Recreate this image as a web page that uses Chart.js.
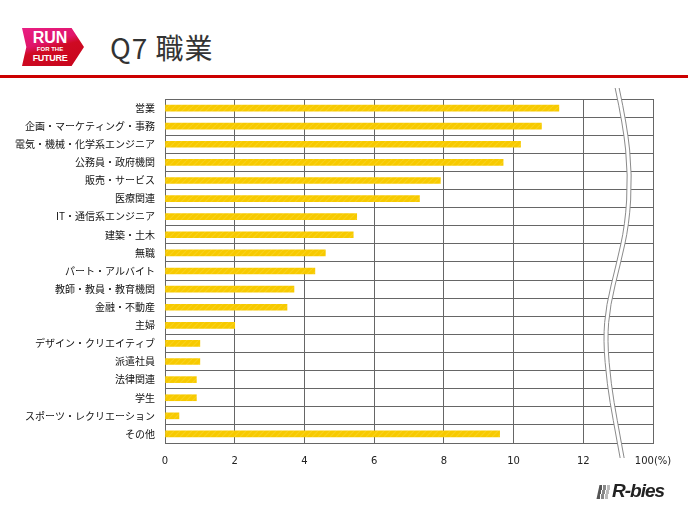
<!DOCTYPE html>
<html>
<head>
<meta charset="utf-8">
<script src="https://cdn.jsdelivr.net/npm/chart.js@4"></script>
<style>
  body { margin: 0; width: 688px; height: 516px; background: #fff; position: relative; overflow: hidden;
         font-family: "Noto Sans CJK JP", "Noto Sans", sans-serif; }
  #logo { position: absolute; left: 22px; top: 28px; width: 62px; height: 38px;
          background: linear-gradient(165deg, #e91e84 0%, #e0156a 38%, #cf0a23 52%, #c8051c 100%);
          clip-path: polygon(0 0, 80% 0, 100% 50%, 80% 100%, 0 100%, 7% 50%); color: #fff; text-align: center; }
  #logo .run { position: absolute; left: 1px; width: 54px; top: 2px; font: bold 16px/15px "Liberation Sans Narrow", "Liberation Sans", Arial, sans-serif; }
  #logo .for { position: absolute; left: 1px; width: 54px; top: 18px; font: bold 6px/7px "Liberation Sans", Arial, sans-serif; }
  #logo .fut { position: absolute; left: 1px; width: 54px; top: 25px; font: bold 9px/10px "Liberation Sans", Arial, sans-serif; letter-spacing: -0.3px; }
  #title { position: absolute; left: 110px; top: 30px; font-size: 28px; line-height: 34px; letter-spacing: 1px; color: #333; white-space: nowrap; }
  #rule { position: absolute; left: 0; top: 75px; width: 688px; height: 3px; background: #cc0000; }
  #wrap { position: absolute; left: 0; top: 83px; width: 688px; height: 397px; }
  #brand { position: absolute; left: 596px; top: 480px; width: 80px; height: 22px; white-space: nowrap; }
  #brand .bars { position: absolute; left: 2px; top: 5px; width: 14px; height: 14px;
                 background: linear-gradient(90deg, #555 0 3px, #fff 3px 4px, #888 4px 7px, #fff 7px 8px, #bbb 8px 11px, #fff 11px);
                 transform: skewX(-12deg); }
  #brand .txt { position: absolute; left: 16px; top: -1px; font: italic bold 19px/24px "Liberation Sans", Arial, sans-serif;
                color: #222; letter-spacing: -1px; }
</style>
</head>
<body>
<div id="logo"><div class="run">RUN</div><div class="for">FOR THE</div><div class="fut">FUTURE</div></div>
<div id="title">Q7 職業</div>
<div id="rule"></div>
<div id="wrap"><canvas id="chart"></canvas></div>
<div id="brand"><div class="bars"></div><div class="txt">R-bies</div></div>
<script>
// Data
const categories = ['営業', '企画・マーケティング・事務', '電気・機械・化学系エンジニア', '公務員・政府機関', '販売・サービス',
  '医療関連', 'IT・通信系エンジニア', '建築・土木', '無職', 'パート・アルバイト', '教師・教員・教育機関', '金融・不動産',
  '主婦', 'デザイン・クリエイティブ', '派遣社員', '法律関連', '学生', 'スポーツ・レクリエーション', 'その他'];
const values = [11.3, 10.8, 10.2, 9.7, 7.9, 7.3, 5.5, 5.4, 4.6, 4.3, 3.7, 3.5, 2.0, 1.0, 1.0, 0.9, 0.9, 0.4, 9.6];
const tickValues = [0, 2, 4, 6, 8, 10, 12, 14];
const tickLabels = ['0', '2', '4', '6', '8', '10', '12', '100(%)'];
const breakAt = 13;

// striped yellow fill for the bars
const pc = document.createElement('canvas');
pc.width = 6; pc.height = 6;
const p = pc.getContext('2d');
p.fillStyle = '#f7ca00';
p.fillRect(0, 0, 6, 6);
p.strokeStyle = '#f9d11c';
p.lineWidth = 1.2;
p.beginPath(); p.moveTo(0, 6); p.lineTo(6, 0); p.stroke();
const stripes = document.getElementById('chart').getContext('2d').createPattern(pc, 'repeat');

// axis break drawn as two wavy lines
const breakShape = [[-1, -11], [7, 26], [12, 76], [9, 126], [0, 166], [-10, 206], [-13, 241], [-9, 286], [-3, 321], [4, 359]];
function wavy(ctx, pts, cont) {
  if (cont) ctx.lineTo(pts[0][0], pts[0][1]); else ctx.moveTo(pts[0][0], pts[0][1]);
  for (let i = 1; i < pts.length - 1; i++) {
    const mx = (pts[i][0] + pts[i + 1][0]) / 2, my = (pts[i][1] + pts[i + 1][1]) / 2;
    ctx.quadraticCurveTo(pts[i][0], pts[i][1], mx, my);
  }
  const l = pts[pts.length - 1];
  ctx.lineTo(l[0], l[1]);
}
const breakPlugin = {
  id: 'axisBreak',
  afterDraw(chart) {
    const ctx = chart.ctx;
    const x0 = chart.scales.x.getPixelForValue(breakAt);
    const top = chart.chartArea.top;
    const left = breakShape.map(q => [x0 + q[0] - 2, top + q[1]]);
    const right = breakShape.map(q => [x0 + q[0] + 2, top + q[1]]);
    ctx.save();
    ctx.beginPath();
    wavy(ctx, left);
    wavy(ctx, right.slice().reverse(), true);
    ctx.closePath();
    ctx.fillStyle = '#fff';
    ctx.fill();
    ctx.strokeStyle = '#8a8a8a';
    ctx.lineWidth = 1;
    ctx.beginPath(); wavy(ctx, left); ctx.stroke();
    ctx.beginPath(); wavy(ctx, right); ctx.stroke();
    ctx.restore();
  }
};

new Chart(document.getElementById('chart'), {
  type: 'bar',
  data: {
    labels: categories,
    datasets: [{
      data: values,
      backgroundColor: stripes,
      barThickness: 6,
      borderWidth: 0
    }]
  },
  options: {
    indexAxis: 'y',
    responsive: true,
    maintainAspectRatio: false,
    animation: false,
    layout: { padding: { top: 6, right: 35, left: 0, bottom: 0 } },
    plugins: { legend: { display: false }, tooltip: { enabled: false } },
    scales: {
      x: {
        min: 0, max: 14,
        afterBuildTicks: s => { s.ticks = tickValues.map(v => ({ value: v })); },
        afterFit: s => { s.height = 37; },
        grid: { color: '#666', drawTicks: false, lineWidth: 1 },
        border: { color: '#666' },
        ticks: {
          padding: 12, color: '#222', maxRotation: 0, autoSkip: false,
          font: { family: '"DejaVu Sans", sans-serif', size: 10 },
          callback: v => tickLabels[tickValues.indexOf(v)]
        }
      },
      y: {
        afterFit: s => { s.width = 165; },
        grid: { color: '#666', drawTicks: false, lineWidth: 1 },
        border: { color: '#666' },
        ticks: {
          padding: 10, color: '#111', autoSkip: false,
          font: { family: '"Noto Sans CJK JP", sans-serif', size: 10 }
        }
      }
    }
  },
  plugins: [breakPlugin]
});
</script>
</body>
</html>
